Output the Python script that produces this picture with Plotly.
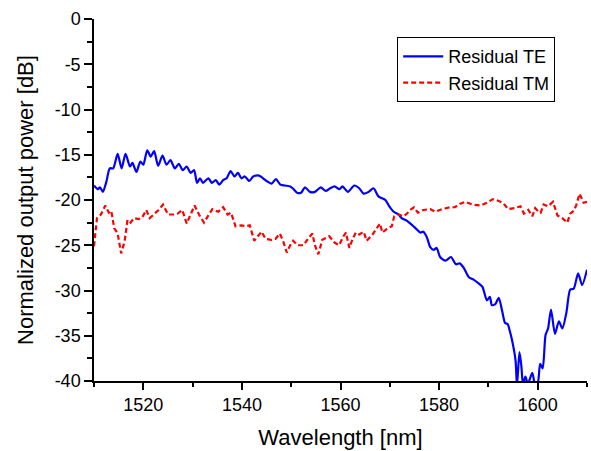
import plotly.graph_objects as go

te_wl = [1510.0, 1510.8, 1511.2, 1511.8, 1512.5, 1513.2, 1513.9, 1514.8, 1515.6, 1516.4,
         1517.3, 1517.8, 1518.6, 1519.4, 1520.0, 1520.8, 1521.5, 1522.2, 1523.0, 1523.9,
         1524.7, 1525.5, 1526.4, 1527.2, 1528.0, 1528.8, 1529.6, 1530.3, 1530.9, 1531.5,
         1532.1, 1533.2, 1533.9, 1534.7, 1535.4, 1536.2, 1536.9, 1537.7, 1538.5, 1539.2,
         1539.9, 1540.6, 1541.5, 1542.3, 1543.5, 1544.3, 1545.0, 1546.0, 1546.9, 1547.8,
         1548.7, 1549.8, 1550.3, 1551.2, 1552.0, 1552.8, 1553.8, 1554.8, 1556.0, 1557.0,
         1557.9, 1558.8, 1559.8, 1560.4, 1561.5, 1562.8, 1563.8, 1564.7, 1565.7, 1566.7,
         1567.7, 1569.1, 1569.9, 1570.8, 1571.8, 1572.4, 1573.5, 1575.0, 1576.2, 1576.8,
         1577.5, 1578.2, 1578.9, 1579.5, 1580.2, 1581.3, 1582.4, 1583.4, 1584.2, 1585.0,
         1586.0, 1587.0, 1588.2, 1588.8, 1589.7, 1590.3, 1590.7, 1591.4, 1592.1, 1592.8,
         1593.4, 1593.9, 1594.3, 1594.8, 1595.5, 1595.8, 1596.3, 1596.7, 1597.0, 1597.5,
         1598.0, 1598.9, 1599.5, 1600.0, 1600.5, 1601.0, 1601.6, 1602.1, 1602.7, 1603.5,
         1604.3, 1605.0, 1605.8, 1606.6, 1607.3, 1608.2, 1609.0, 1610.0]
te_db = [-18.4, -18.8, -18.6, -19.1, -18.0, -16.5, -16.5, -14.9, -16.5, -14.9,
         -16.3, -15.9, -16.9, -15.75, -16.1, -14.5, -15.2, -14.6, -16.2, -15.1,
         -16.1, -15.6, -16.5, -16.0, -16.7, -16.3, -17.0, -16.7, -18.1, -17.6,
         -18.1, -17.6, -18.1, -17.8, -18.3, -17.8, -17.6, -16.8, -17.4, -17.0,
         -17.6, -17.4, -17.9, -17.4, -17.3, -17.6, -17.9, -18.2, -17.7, -18.3,
         -18.4, -18.5, -18.7, -19.2, -19.2, -18.6, -19.1, -19.1, -18.6, -19.0,
         -18.7, -18.5, -18.8, -18.5, -19.1, -18.4, -18.7, -19.3, -19.1, -18.7,
         -19.6, -20.0, -20.7, -21.3, -21.6, -22.0, -22.3, -23.0, -23.6, -23.5,
         -24.1, -25.2, -25.5, -25.3, -26.3, -26.7, -26.3, -27.1, -27.0, -27.5,
         -28.5, -28.8, -29.3, -29.6, -31.1, -30.7, -31.6, -31.5, -30.8, -32.3,
         -33.6, -33.7, -34.4, -35.5, -37.7, -40.5, -36.8, -38.4, -40.3, -39.5,
         -40.3, -39.1, -40.5, -40.3, -38.1, -38.6, -34.9, -34.2, -32.1, -34.8,
         -33.4, -34.2, -32.5, -29.9, -29.8, -28.1, -29.4, -27.7]

tm_wl = [1510.0, 1510.6, 1511.4, 1512.3, 1513.0, 1513.5, 1514.1, 1514.8, 1515.5, 1516.2,
         1516.8, 1517.4, 1518.1, 1519.1, 1519.8, 1520.6, 1521.3, 1522.1, 1523.1, 1524.0,
         1525.0, 1526.1, 1527.0, 1527.9, 1528.8, 1529.6, 1530.4, 1531.3, 1532.3, 1533.3,
         1534.0, 1535.2, 1536.2, 1537.1, 1537.8, 1538.7, 1539.9, 1540.8, 1541.6, 1542.5,
         1543.2, 1544.0, 1544.8, 1546.0, 1546.8, 1547.7, 1548.4, 1549.1, 1549.8, 1550.4,
         1551.3, 1552.5, 1553.5, 1554.3, 1554.8, 1555.5, 1556.3, 1557.7, 1558.8, 1559.7,
         1560.6, 1561.1, 1561.8, 1562.4, 1563.1, 1563.8, 1564.7, 1565.3, 1566.4, 1567.4,
         1568.0, 1568.5, 1569.4, 1570.4, 1570.9, 1571.8, 1572.8, 1573.5, 1574.1, 1574.9,
         1575.7, 1576.8, 1578.2, 1579.2, 1580.6, 1582.3, 1583.2, 1584.3, 1585.3, 1586.7,
         1588.4, 1589.7, 1590.9, 1592.1, 1593.1, 1594.0, 1595.3, 1596.5, 1597.2, 1598.1,
         1598.9, 1599.5, 1600.2, 1600.6, 1601.2, 1602.1, 1603.1, 1604.0, 1605.0, 1606.0,
         1606.6, 1607.3, 1607.8, 1608.5, 1609.3, 1610.0]
tm_db = [-25.1, -22.0, -21.6, -20.6, -21.4, -21.2, -23.1, -23.7, -25.9, -24.6,
         -22.2, -22.5, -22.0, -22.1, -21.9, -21.1, -22.0, -21.6, -21.1, -20.5,
         -21.6, -21.6, -21.5, -21.1, -22.6, -21.6, -20.6, -21.6, -22.5, -21.6,
         -21.0, -21.3, -20.8, -21.6, -21.4, -22.9, -22.8, -22.9, -22.8, -24.5,
         -24.0, -23.5, -24.3, -24.4, -24.3, -23.7, -24.6, -25.8, -25.0, -24.5,
         -25.0, -25.0, -24.2, -23.7, -25.0, -26.0, -24.4, -24.0, -24.7, -25.0,
         -24.0, -23.6, -25.3, -24.4, -23.6, -23.8, -23.5, -24.5, -23.9, -23.0,
         -22.6, -23.6, -23.2, -22.9, -21.8, -21.6, -21.8, -21.5, -21.1, -20.8,
         -21.4, -21.1, -21.0, -21.3, -21.0, -20.8, -20.8, -20.4, -20.2, -20.5,
         -20.6, -20.3, -19.9, -20.1, -20.4, -21.0, -20.9, -20.7, -21.5, -21.1,
         -21.8, -20.9, -21.3, -21.4, -20.5, -20.7, -20.2, -21.7, -22.0, -22.5,
         -21.5, -21.2, -20.6, -19.3, -20.3, -20.2]

x_ticks = [1520, 1540, 1560, 1580, 1600]
y_ticks = [0, -5, -10, -15, -20, -25, -30, -35, -40]

FONT = "Arial, Liberation Sans, sans-serif"

fig = go.Figure()
fig.add_trace(go.Scatter(x=te_wl, y=te_db, mode="lines", name="Residual TE",
                         line=dict(color="#0000FF", width=2.2, shape="spline", smoothing=0.7)))
fig.add_trace(go.Scatter(x=tm_wl, y=tm_db, mode="lines", name="Residual TM",
                         line=dict(color="#FF0000", width=2.2, dash="5px,3px")))

fig.update_layout(
    width=591, height=451,
    margin=dict(l=94, r=4, t=19, b=70, autoexpand=False),
    paper_bgcolor="white", plot_bgcolor="white",
    font=dict(family=FONT, color="black", size=18),
    showlegend=True,
    legend=dict(x=0.615, y=0.95, xanchor="left", yanchor="top",
                bordercolor="black", borderwidth=1, bgcolor="white",
                font=dict(family=FONT, size=18, color="black"),
                tracegroupgap=0, itemwidth=40),
)
fig.update_xaxes(
    range=[1510, 1610], tickvals=x_ticks, ticktext=[str(v) for v in x_ticks],
    showline=True, linecolor="black", linewidth=1.5, mirror=False,
    ticks="outside", ticklen=7, tickwidth=1.5, tickcolor="black",
    minor=dict(dtick=10, tick0=1510, ticks="outside", ticklen=4, tickwidth=1.5, tickcolor="black", showgrid=False),
    showgrid=False, zeroline=False, automargin=False,
    tickfont=dict(family=FONT, size=18, color="black"),
    title=dict(text="Wavelength [nm]", font=dict(family=FONT, size=22, color="black")),
)
fig.update_yaxes(
    range=[-40, 0], tickvals=y_ticks, ticktext=[str(v) for v in y_ticks],
    showline=True, linecolor="black", linewidth=1.5, mirror=False,
    ticks="outside", ticklen=8, tickwidth=1.5, tickcolor="black",
    minor=dict(dtick=2.5, tick0=0, ticks="outside", ticklen=5, tickwidth=1.5, tickcolor="black", showgrid=False),
    showgrid=False, zeroline=False, automargin=False,
    tickfont=dict(family=FONT, size=18, color="black"),
    title=dict(text="Normalized output power [dB]", font=dict(family=FONT, size=22, color="black")),
)

fig.write_html("out.html", config={"displayModeBar": False},
               post_script="document.body.style.margin='0px';")
